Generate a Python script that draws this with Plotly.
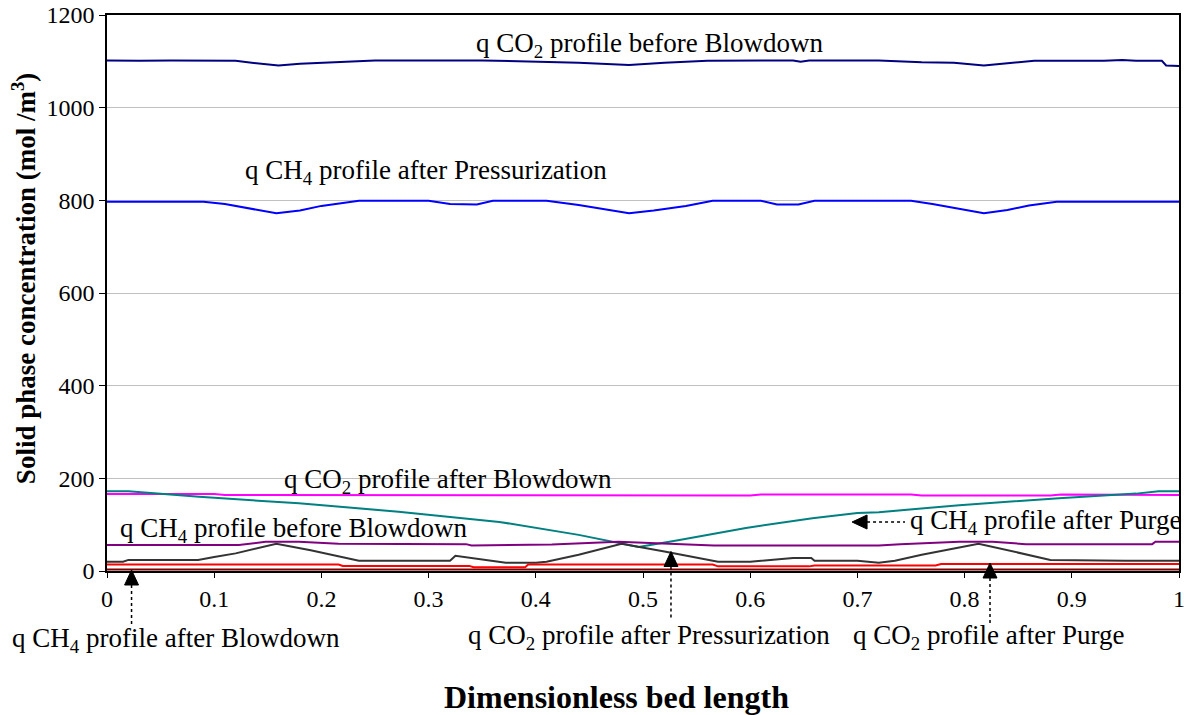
import plotly.graph_objects as go

# ---------------- data ----------------
x_co2_before_bd = [0, 0.03, 0.06, 0.09, 0.12, 0.135, 0.16, 0.18, 0.21, 0.25, 0.35, 0.40, 0.44, 0.487, 0.52, 0.56, 0.60, 0.64, 0.647, 0.655, 0.72, 0.76, 0.79, 0.818, 0.84, 0.865, 0.93, 0.947, 0.96, 0.984, 0.988, 1.0]
y_co2_before_bd = [1102, 1101, 1102, 1101, 1101, 1097, 1091, 1095, 1098, 1102, 1102, 1100, 1097, 1092, 1097, 1101, 1102, 1102, 1099, 1102, 1102, 1098, 1097, 1091, 1096, 1101, 1101, 1103, 1101, 1101, 1091, 1090]

x_ch4_after_press = [0, 0.05, 0.09, 0.11, 0.13, 0.158, 0.18, 0.20, 0.235, 0.30, 0.32, 0.345, 0.36, 0.41, 0.44, 0.46, 0.487, 0.51, 0.54, 0.565, 0.61, 0.625, 0.645, 0.66, 0.75, 0.77, 0.79, 0.818, 0.84, 0.86, 0.886, 0.95, 1.0]
y_ch4_after_press = [797, 797, 797, 792, 784, 772, 778, 788, 799, 799, 792, 791, 799, 799, 790, 783, 772, 778, 788, 799, 799, 791, 791, 799, 799, 792, 784, 772, 779, 789, 797, 797, 797]

x_co2_after_bd = [0, 0.10, 0.11, 0.45, 0.46, 0.60, 0.61, 0.75, 0.76, 0.88, 0.89, 1.0]
y_co2_after_bd = [166, 166, 164, 164, 163, 163, 165, 165, 163, 163, 165, 164]

x_ch4_after_purge = [0, 0.02, 0.086, 0.179, 0.272, 0.347, 0.366, 0.44, 0.48, 0.496, 0.534, 0.596, 0.658, 0.70, 0.72, 0.795, 0.888, 0.96, 0.981, 1.0]
y_ch4_after_purge = [172, 172, 160, 146, 128, 110, 106, 78, 60, 52, 67, 93, 114, 125, 127, 142, 157, 167, 172, 172]

x_ch4_before_bd = [0, 0.123, 0.148, 0.179, 0.216, 0.335, 0.34, 0.415, 0.477, 0.51, 0.566, 0.72, 0.74, 0.795, 0.826, 0.857, 0.975, 0.978, 1.0]
y_ch4_before_bd = [56, 56, 63, 63, 59, 58, 55, 57, 63, 60, 55, 55, 58, 63, 63, 58, 58, 63, 63]

x_co2_after_press = [0, 0.015, 0.02, 0.085, 0.10, 0.12, 0.158, 0.19, 0.235, 0.32, 0.325, 0.335, 0.35, 0.372, 0.40, 0.41, 0.44, 0.48, 0.52, 0.57, 0.60, 0.625, 0.64, 0.657, 0.66, 0.70, 0.72, 0.735, 0.76, 0.813, 0.85, 0.88, 0.95, 1.0]
y_co2_after_press = [20, 20, 24, 24, 30, 38, 59, 45, 22, 22, 33, 30, 25, 18, 18, 20, 35, 59, 42, 20, 20, 26, 28, 28, 22, 22, 18, 22, 35, 59, 40, 24, 22, 22]

x_ch4_after_bd = [0, 0.216, 0.22, 0.338, 0.342, 0.39, 0.393, 0.565, 0.57, 0.655, 0.66, 0.773, 0.778, 1.0]
y_ch4_after_bd = [14, 14, 11, 11, 8, 8, 14, 14, 10, 10, 12, 12, 15, 15]

x_co2_after_purge = [0, 0.5, 1.0]
y_co2_after_purge = [3.5, 3.5, 3.5]

x_ticks = [0, 0.1, 0.2, 0.3, 0.4, 0.5, 0.6, 0.7, 0.8, 0.9, 1]
x_tick_labels = ["0", "0.1", "0.2", "0.3", "0.4", "0.5", "0.6", "0.7", "0.8", "0.9", "1"]
y_ticks = [0, 200, 400, 600, 800, 1000, 1200]

series = [
    (x_co2_before_bd, y_co2_before_bd, "#000080"),
    (x_ch4_after_press, y_ch4_after_press, "#0000FF"),
    (x_co2_after_bd, y_co2_after_bd, "#FF00FF"),
    (x_ch4_after_purge, y_ch4_after_purge, "#008080"),
    (x_ch4_before_bd, y_ch4_before_bd, "#800080"),
    (x_co2_after_press, y_co2_after_press, "#333333"),
    (x_ch4_after_bd, y_ch4_after_bd, "#FF0000"),
    (x_co2_after_purge, y_co2_after_purge, "#800000"),
]

FONT = "'Liberation Serif', 'Times New Roman', Times, serif"

fig = go.Figure()
for xs, ys, col in series:
    fig.add_trace(go.Scatter(x=xs, y=ys, mode="lines",
                             line=dict(color=col, width=2),
                             showlegend=False, hoverinfo="skip"))

fig.update_layout(
    width=1190, height=715,
    margin=dict(l=107, r=11, t=15, b=144, autoexpand=False),
    paper_bgcolor="white", plot_bgcolor="white",
    font=dict(family=FONT, color="black", size=24),
    showlegend=False,
)
fig.update_xaxes(range=[0, 1], tickvals=x_ticks, ticktext=x_tick_labels,
                 showgrid=False, zeroline=False, automargin=False,
                 showline=True, linecolor="black", linewidth=1.5, mirror=True,
                 ticks="outside", ticklen=5, tickcolor="black",
                 tickfont=dict(family=FONT, size=24, color="black"))
fig.update_yaxes(range=[0, 1200], tickvals=y_ticks,
                 showgrid=True, gridcolor="#C0C0C0", gridwidth=1, zeroline=False,
                 automargin=False,
                 showline=True, linecolor="black", linewidth=1.5, mirror=True,
                 ticks="outside", ticklen=6, tickcolor="black",
                 tickfont=dict(family=FONT, size=24, color="black"))

ann_font = dict(family=FONT, size=27, color="black")
labels = [
    ("q CO<sub>2</sub> profile before Blowdown", 0.5056, 0.946, "center"),
    ("q CH<sub>4</sub> profile after Pressurization", 0.2976, 0.7176, "center"),
    ("q CO<sub>2</sub> profile after Blowdown", 0.318, 0.162, "center"),
    ("q CH<sub>4</sub> profile before Blowdown", 0.1744, 0.0737, "center"),
    ("q CH<sub>4</sub> profile after Purge", 0.747, 0.088, "left"),
    ("q CH<sub>4</sub> profile after Blowdown", 0.0644, -0.124, "center"),
    ("q CO<sub>2</sub> profile after Pressurization", 0.5056, -0.119, "center"),
    ("q CO<sub>2</sub> profile after Purge", 0.822, -0.119, "center"),
]
for txt, ax_, ay_, anc in labels:
    fig.add_annotation(text=txt, x=ax_, y=ay_, xref="paper", yref="paper",
                       xanchor=anc, yanchor="middle", showarrow=False, font=ann_font)

# axis titles
fig.add_annotation(text="<b>Solid phase concentration (mol /m<sup>3</sup>)</b>",
                   x=-0.0774, y=0.525, xref="paper", yref="paper", textangle=-90,
                   xanchor="center", yanchor="middle", showarrow=False,
                   font=dict(family=FONT, size=27, color="black"))
fig.add_annotation(text="<b>Dimensionless bed length</b>",
                   x=0.475, y=-0.2266, xref="paper", yref="paper",
                   xanchor="center", yanchor="middle", showarrow=False,
                   font=dict(family=FONT, size=32, color="black"))

# pointer arrows (dotted stem + filled triangle head), paper coordinates
hw = 0.0065   # half width of head (x)
hh = 0.027    # head height (y)
up_arrows = [  # (x, tip_y, stem_end_y)
    (0.0229, 0.0018, -0.1007),
    (0.5261, 0.0351, -0.0863),
    (0.8237, 0.0144, -0.0971),
]
for x0, tip, end in up_arrows:
    fig.add_shape(type="path", xref="paper", yref="paper",
                  path=f"M {x0},{tip} L {x0-hw},{tip-hh} L {x0+hw},{tip-hh} Z",
                  fillcolor="black", line=dict(color="black", width=1))
    fig.add_shape(type="line", xref="paper", yref="paper",
                  x0=x0, x1=x0, y0=tip-hh, y1=end,
                  line=dict(color="black", width=1.5, dash="dot"))
# left-pointing arrow for CH4 after Purge
tx, ty = 0.695, 0.0881
fig.add_shape(type="path", xref="paper", yref="paper",
              path=f"M {tx},{ty} L {tx+0.014},{ty+0.0126} L {tx+0.014},{ty-0.0126} Z",
              fillcolor="black", line=dict(color="black", width=1))
fig.add_shape(type="line", xref="paper", yref="paper",
              x0=tx+0.014, x1=0.7444, y0=ty, y1=ty,
              line=dict(color="black", width=1.5, dash="dot"))

fig.write_html("out.html")
